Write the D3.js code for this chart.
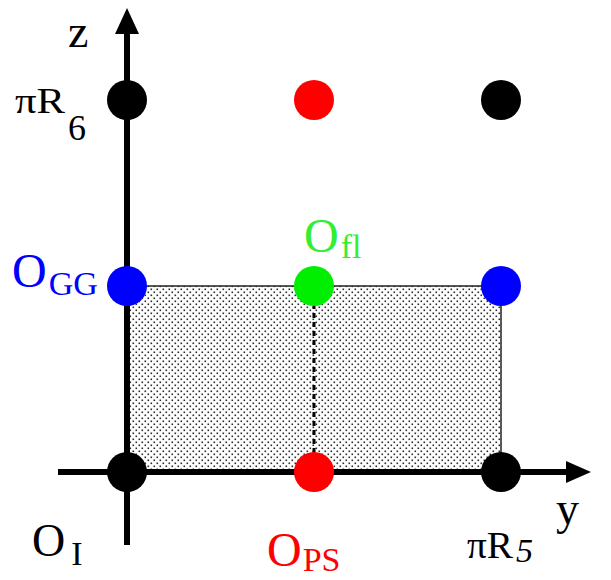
<!DOCTYPE html>
<html><head><meta charset="utf-8">
<script src="https://cdn.jsdelivr.net/npm/d3@7"></script>
<style>html,body{margin:0;padding:0;background:#fff;}</style>
</head><body>
<svg id="c" width="611" height="580"></svg>
<script>
// grid columns (y direction) and rows (z direction)
const yCats = [0, 1, 2];
const zCats = [0, 1, 2];
// points: [yIndex, zIndex, colour]
const pointsY = [0, 1, 2, 0, 1, 2, 0, 1, 2];
const pointsZ = [0, 0, 0, 1, 1, 1, 2, 2, 2];
const pointsC = ["#000", "#ff0000", "#000", "#0000ff", "#00ee00", "#0000ff", "#000", "#ff0000", "#000"];
// shaded region (y from 0..2, z from 0..1)
const regionY = [0, 2];
const regionZ = [0, 1];

const svg = d3.select("#c");
const x = d3.scaleLinear().domain([0, 2]).range([127, 501]);
const y = d3.scaleLinear().domain([0, 2]).range([472, 100]);

const defs = svg.append("defs");
const pat = defs.append("pattern").attr("id", "stip").attr("patternUnits", "userSpaceOnUse")
  .attr("width", 6).attr("height", 6);
pat.append("rect").attr("width", 6).attr("height", 6).attr("fill", "#fff");
pat.append("rect").attr("x", 0.5).attr("y", 0.5).attr("width", 1.6).attr("height", 1.6).attr("fill", "#2a2a2a");
pat.append("rect").attr("x", 3.5).attr("y", 3.5).attr("width", 1.6).attr("height", 1.6).attr("fill", "#2a2a2a");

svg.append("rect")
  .attr("x", x(regionY[0])).attr("y", y(regionZ[1]))
  .attr("width", x(regionY[1]) - x(regionY[0]))
  .attr("height", y(regionZ[0]) - y(regionZ[1]))
  .attr("fill", "url(#stip)").attr("stroke", "#222").attr("stroke-width", 1.5);

svg.append("line")
  .attr("x1", x(1)).attr("x2", x(1)).attr("y1", y(1)).attr("y2", y(0))
  .attr("stroke", "#000").attr("stroke-width", 3).attr("stroke-dasharray", "5,4");

// axes
svg.append("line").attr("x1", x(0)).attr("x2", x(0)).attr("y1", 545).attr("y2", 30)
  .attr("stroke", "#000").attr("stroke-width", 6);
svg.append("path").attr("d", `M${x(0)},8 L${x(0)-12},34 L${x(0)+12},34 Z`).attr("fill", "#000");
svg.append("line").attr("x1", 58).attr("x2", 570).attr("y1", y(0)).attr("y2", y(0))
  .attr("stroke", "#000").attr("stroke-width", 6);
svg.append("path").attr("d", `M591,${y(0)} L566,${y(0)-11} L566,${y(0)+11} Z`).attr("fill", "#000");

svg.selectAll("circle.p").data(pointsY.map((d, i) => ({y: d, z: pointsZ[i], c: pointsC[i]})))
  .enter().append("circle")
  .attr("cx", d => x(d.y)).attr("cy", d => y(d.z)).attr("r", 20).attr("fill", d => d.c);

const F = "'Liberation Serif', 'DejaVu Serif', serif";
function label(tx, ty, parts, color) {
  const t = svg.append("text").attr("x", tx).attr("y", ty).attr("fill", color).attr("font-family", F);
  parts.forEach(p => {
    const s = t.append("tspan").text(p.t).attr("font-size", p.s);
    if (p.dy) s.attr("dy", p.dy);
    if (p.dx) s.attr("dx", p.dx);
    if (p.i) s.attr("font-style", "italic");
    if (p.L) s.attr("textLength", p.L).attr("lengthAdjust", "spacingAndGlyphs");
  });
}
label(68, 47, [{t: "z", s: 46}], "#000");
label(556, 524, [{t: "y", s: 46}], "#000");
label(15, 113, [{t: "πR", s: 36, L: 50}, {t: "6", s: 36, dy: 27, dx: 3}], "#000");
label(12, 287, [{t: "O", s: 48}, {t: "GG", s: 34, dy: 8, dx: 2}], "#0000ff");
label(304, 252, [{t: "O", s: 48}, {t: "fl", s: 34, dy: 6, dx: 2}], "#33ee33");
label(32, 556, [{t: "O", s: 46}, {t: "I", s: 34, dy: 9, dx: 6}], "#000");
label(267, 566, [{t: "O", s: 48}, {t: "PS", s: 34, dy: 5, dx: 1}], "#ff0000");
label(467, 558, [{t: "πR", s: 38, L: 46}, {t: "5", s: 34, dy: 4, dx: 3, i: true}], "#000");
</script>
</body></html>
